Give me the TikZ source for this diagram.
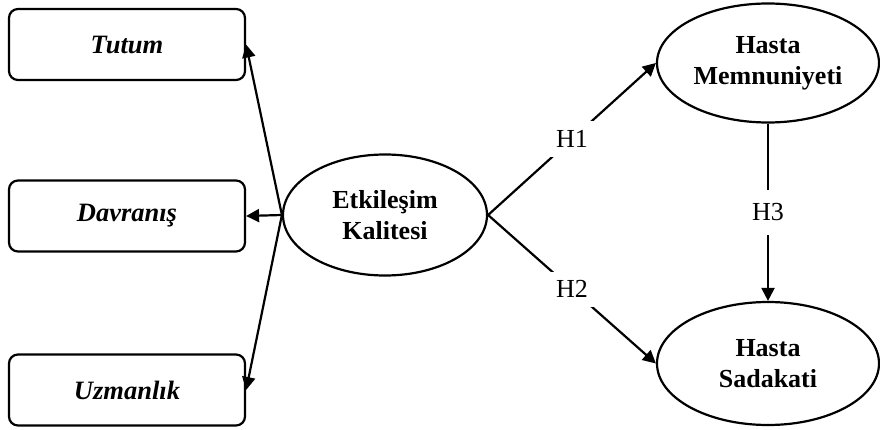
\documentclass[tikz,border=0pt]{standalone}
\usepackage{fontspec}
\setmainfont{Liberation Serif}
\usetikzlibrary{shapes.geometric,arrows.meta}
\begin{document}
\begin{tikzpicture}[x=1pt,y=1pt,
  boxnode/.style={draw,line width=2.2pt,rounded corners=9pt,minimum width=236pt,minimum height=71pt,inner sep=0pt,font=\bfseries\itshape\fontsize{26.5}{32}\selectfont},
  ellnode/.style={draw,ellipse,line width=2.2pt,inner sep=0pt,align=center,font=\bfseries\fontsize{26}{31}\selectfont},
  conn/.style={line width=2.2pt},
  arr/.style={conn,-{Triangle[length=13pt,width=13pt]}},
  hlabel/.style={fill=white,inner xsep=6pt,inner ysep=9pt,font=\fontsize{26}{31}\selectfont}
]
\useasboundingbox (0,0) rectangle (880,429);
\node[boxnode] (T) at (127,384.5) {Tutum};
\node[boxnode] (D) at (127,213) {Davranış};
\node[boxnode] (U) at (127,39) {Uzmanlık};
\node[ellnode,minimum width=204pt,minimum height=121pt] (E) at (385,214) {Etkileşim\\Kalitesi};
\node[ellnode,minimum width=222pt,minimum height=119pt] (M) at (768,366) {Hasta\\Memnuniyeti};
\node[ellnode,minimum width=222pt,minimum height=123pt] (S) at (768,65.5) {Hasta\\Sadakati};
\draw[arr] (E.west) -- (T.east);
\draw[arr] (E.west) -- (D.east);
\draw[arr] (E.west) -- (U.east);
\draw[arr] (E.east) -- node[hlabel]{H1} (M.west);
\draw[arr] (E.east) -- node[hlabel]{H2} (S.west);
\draw[arr] (M.south) -- node[hlabel,inner ysep=14pt]{H3} (S.north);
\end{tikzpicture}
\end{document}
